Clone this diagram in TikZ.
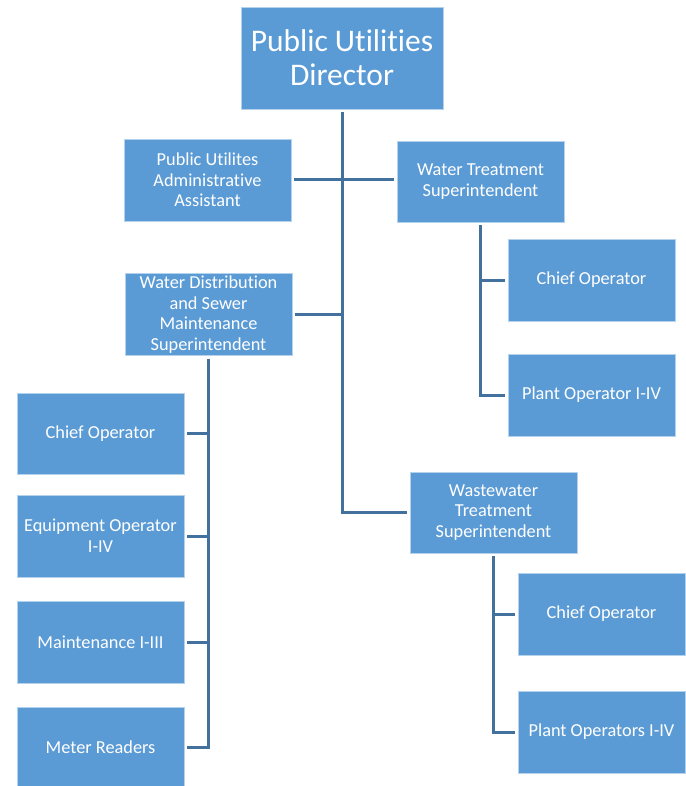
\documentclass[tikz,border=0pt]{standalone}
\usepackage{fontspec}
\setmainfont{Carlito}[Ligatures=NoCommon]
\definecolor{boxblue}{HTML}{5B9BD5}
\definecolor{linkblue}{HTML}{41719C}
\begin{document}
\begin{tikzpicture}[x=1pt,y=-1pt,
  unit/.style={draw=white!55!boxblue, line width=0.8pt, fill=boxblue, text=white,
    minimum width=167pt, minimum height=82pt, inner sep=2pt, align=center,
    font=\fontsize{18.3}{20.7}\selectfont},
  head/.style={unit, minimum width=202pt, minimum height=102pt,
    font=\fontsize{31.5}{34}\selectfont},
  link/.style={draw=linkblue, line width=3pt},
  both/.style={link, shorten <=3pt, shorten >=3pt},
  frombox/.style={link, shorten <=3pt}]
\useasboundingbox (0,0) rectangle (685,786);

% boxes
\node[head] (dir) at (342,58) {Public Utilities\\Director};
\node[unit] (admin) at (207.5,180) {Public Utilites\\Administrative\\Assistant};
\node[unit, minimum height=81pt] (wts) at (480.5,181.5) {Water Treatment\\Superintendent};
\node[unit, minimum height=81pt] (wds) at (208.5,314.5) {Water Distribution\\and Sewer\\Maintenance\\Superintendent};
\node[unit, minimum height=81pt] (wwts) at (493.5,512.5) {Wastewater\\Treatment\\Superintendent};

\node[unit] (wtschief) at (591.5,280) {Chief Operator};
\node[unit] (wtsplant) at (591.5,395) {Plant Operator I-IV};

\node[unit] (wwchief) at (601.5,614) {Chief Operator};
\node[unit] (wwplant) at (601.5,732) {Plant Operators I-IV};

\node[unit, minimum height=81pt] (wdchief) at (100.5,433.5) {Chief Operator};
\node[unit] (wdequip) at (100.5,536) {Equipment Operator\\I-IV};
\node[unit] (wdmaint) at (100.5,642) {Maintenance I-III};
\node[unit, minimum height=80pt] (wdmeter) at (100.5,747) {Meter Readers};

% reporting lines from the director
\draw[both] (dir.south) |- (wwts.west);
\draw[both] (admin.east) -- (admin.east -| wts.west);
\draw[frombox] (wds.east) -- (wds.east -| dir.south);

% water treatment staff
\draw[both] (wts.south) |- (wtsplant.west);
\draw[frombox] (wtschief.west) -- (wtschief.west -| wts.south);

% wastewater treatment staff
\draw[both] (wwts.south) |- (wwplant.west);
\draw[frombox] (wwchief.west) -- (wwchief.west -| wwts.south);

% distribution and sewer staff
\draw[both] (wds.south) |- (wdmeter.east);
\draw[frombox] (wdchief.east) -- (wdchief.east -| wds.south);
\draw[frombox] (wdequip.east) -- (wdequip.east -| wds.south);
\draw[frombox] (wdmaint.east) -- (wdmaint.east -| wds.south);
\end{tikzpicture}
\end{document}
